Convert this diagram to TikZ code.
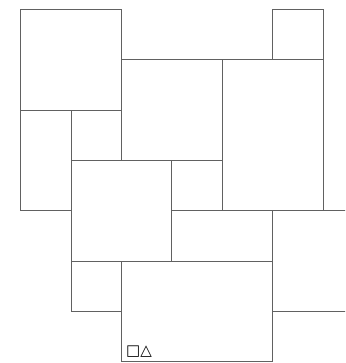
\documentclass[tikz,border=0pt]{standalone}
\usepackage{fontspec}
\newfontfamily\symfont{DejaVu Sans}
\begin{document}
\begin{tikzpicture}[x=1pt,y=-1pt,
  tile/.style={draw=black!62,line width=1.1pt},
  lbl/.style={inner sep=0pt,anchor=base west,font=\symfont\fontsize{15}{17}\selectfont}]
\useasboundingbox (0,0) rectangle (345,363);
\begin{scope}
\clip (0,0) rectangle (345,363);
\draw[tile] (20.7,9.3) rectangle (121.5,110.1);
\draw[tile] (272.7,9.3) rectangle (323.1,59.7);
\draw[tile] (121.5,59.7) rectangle (222.3,160.5);
\draw[tile] (222.3,59.7) rectangle (323.1,210.9);
\draw[tile] (20.7,110.1) rectangle (71.1,210.9);
\draw[tile] (71.1,110.1) rectangle (121.5,160.5);
\draw[tile] (71.1,160.5) rectangle (171.9,261.3);
\draw[tile] (171.9,160.5) rectangle (222.3,210.9);
\draw[tile] (171.9,210.9) rectangle (272.7,261.3);
\draw[tile] (272.7,210.9) rectangle (373.5,311.7);
\draw[tile] (71.1,261.3) rectangle (121.5,311.7);
\draw[tile] (121.5,261.3) rectangle (272.7,361.6);
\end{scope}
\node[lbl] (t) at (126,355) {□△};
\end{tikzpicture}
\end{document}
